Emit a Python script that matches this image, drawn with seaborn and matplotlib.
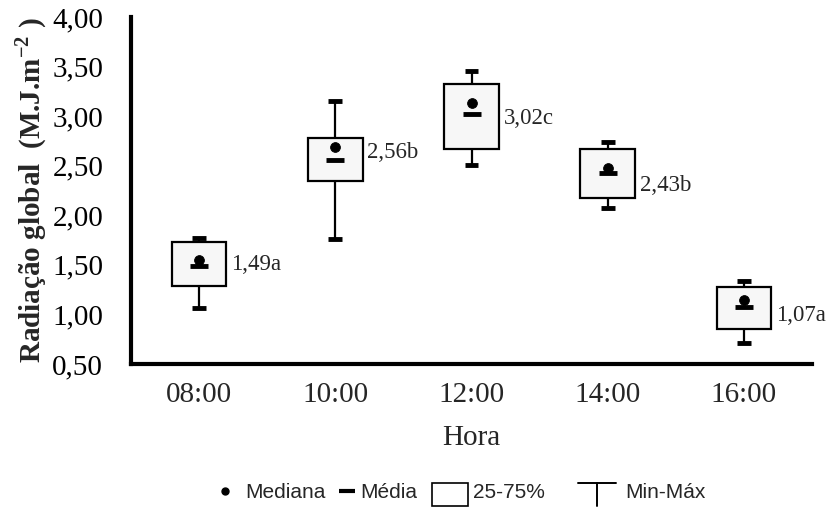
import numpy as np
import pandas as pd
import matplotlib
matplotlib.use("Agg")
import matplotlib.pyplot as plt
from matplotlib.lines import Line2D
from matplotlib.patches import Rectangle
from matplotlib.legend_handler import HandlerBase
from matplotlib.ticker import FuncFormatter, FixedLocator
import seaborn as sns

# ---- data ----
hours = ["08:00", "10:00", "12:00", "14:00", "16:00"]
vmin = [1.06, 1.76, 2.51, 2.07, 0.71]
q1 = [1.29, 2.35, 2.67, 2.17, 0.85]
median = [1.55, 2.69, 3.13, 2.48, 1.15]
q3 = [1.73, 2.78, 3.32, 2.67, 1.28]
vmax = [1.77, 3.15, 3.46, 2.74, 1.34]
mean = [1.49, 2.56, 3.02, 2.43, 1.07]
labels = ["1,49a", "2,56b", "3,02c", "2,43b", "1,07a"]
label_y = [1.50, 2.63, 2.98, 2.30, 0.99]

sns.set_theme(style="white")
plt.rcParams["font.family"] = ["Liberation Serif", "DejaVu Serif"]
plt.rcParams["mathtext.fontset"] = "custom"
plt.rcParams["mathtext.rm"] = "Liberation Serif"
plt.rcParams["mathtext.bf"] = "Liberation Serif:bold"

rows = []
for h, a, b, c, d, e in zip(hours, vmin, q1, median, q3, vmax):
    for v in (a, b, c, d, e):
        rows.append({"Hora": h, "valor": v})
df = pd.DataFrame(rows)

W, H = 832, 514
fig = plt.figure(figsize=(W / 100, H / 100), dpi=100)
ax = fig.add_axes([131 / W, 1 - 364 / H, (812 - 131) / W, (364 - 17) / H])

sns.boxplot(data=df, x="Hora", y="valor", order=hours, ax=ax, whis=(0, 100),
            width=0.4, color="#f7f7f7", linecolor="black", linewidth=1.6,
            saturation=1, showfliers=False, capwidths=0.1,
            medianprops={"linewidth": 0},
            capprops={"linewidth": 3.5, "solid_capstyle": "butt"})

pos = np.arange(len(hours))
sns.scatterplot(x=pos, y=median, marker="o", s=50, color="black",
                edgecolor="black", ax=ax, zorder=5)
sns.scatterplot(x=pos, y=mean, marker="_", s=150, color="black",
                linewidth=3.5, ax=ax, zorder=5)

for p, t, yv in zip(pos, labels, label_y):
    ax.text(p + 0.235, yv, t, fontsize=16.5, va="center", ha="left")

ax.set_xlim(-0.5, len(hours) - 0.5)
ax.set_ylim(0.5, 4.0)
ax.set_yticks(np.arange(0.5, 4.01, 0.5))
ax.yaxis.set_major_formatter(FuncFormatter(lambda v, _: f"{v:.2f}".replace(".", ",")))

ax.xaxis.set_major_locator(FixedLocator(np.arange(-0.5, len(hours), 1.0)))
ax.xaxis.set_major_formatter(FuncFormatter(lambda v, _: ""))
ax.xaxis.set_minor_locator(FixedLocator(pos))
ax.set_xticklabels(hours, minor=True)
ax.tick_params(axis="x", which="minor", length=0, labelsize=21, pad=13)
ax.tick_params(axis="x", which="major", length=6, width=3, direction="out")
ax.tick_params(axis="y", which="major", length=6, width=3, direction="out",
               labelsize=21, pad=14)
ax.tick_params(colors="black")

for s in ["top", "right"]:
    ax.spines[s].set_visible(False)
for s in ["left", "bottom"]:
    ax.spines[s].set_linewidth(3)
    ax.spines[s].set_color("black")

ax.set_xlabel("Hora", fontsize=21, labelpad=12)
ax.set_ylabel(r"Radiação global  (M.J.m$^{\mathbf{-2}}$ )", fontsize=21,
              fontweight="bold", labelpad=2)
ax.grid(False)


class HandlerMinMax(HandlerBase):
    def create_artists(self, legend, orig_handle, xdescent, ydescent,
                       width, height, fontsize, trans):
        x0 = -xdescent
        cx = x0 + width / 2
        top = height * 1.05 - ydescent
        bot = -ydescent - height * 0.5
        h = Line2D([x0, x0 + width], [top, top], color="black", lw=1.4,
                   transform=trans)
        v = Line2D([cx, cx], [top, bot], color="black", lw=1.4, transform=trans)
        return [h, v]


class HandlerBigBox(HandlerBase):
    def create_artists(self, legend, orig_handle, xdescent, ydescent,
                       width, height, fontsize, trans):
        r = Rectangle((-xdescent, -ydescent - height * 0.5), width, height * 1.55,
                      facecolor="white", edgecolor="black", lw=1.2, transform=trans)
        return [r]


class MinMaxKey:
    pass


class BoxKey:
    pass


leg_fs = 15
legend_items = [
    (Line2D([], [], marker="o", color="black", linestyle="none", markersize=5),
     "Mediana", 1.0, 0.44, 215),
    (Line2D([], [], marker="_", color="black", linestyle="none", markersize=11,
            markeredgewidth=3), "Média", 0.7, 0.26, 340),
    (BoxKey(), "25-75%", 1.73, 0.24, 432),
    (MinMaxKey(), "Min-Máx", 1.82, 0.43, 578),
]
for handle, lab, hl, tp, xl in legend_items:
    fig.legend([handle], [lab],
               handler_map={MinMaxKey: HandlerMinMax(), BoxKey: HandlerBigBox()},
               loc="center left", bbox_to_anchor=(xl / W, 1 - 493 / H),
               frameon=False, prop={"family": "Liberation Sans", "size": leg_fs},
               handlelength=hl, handletextpad=tp, borderpad=0,
               borderaxespad=0)

fig.savefig("out.png", dpi=100)
